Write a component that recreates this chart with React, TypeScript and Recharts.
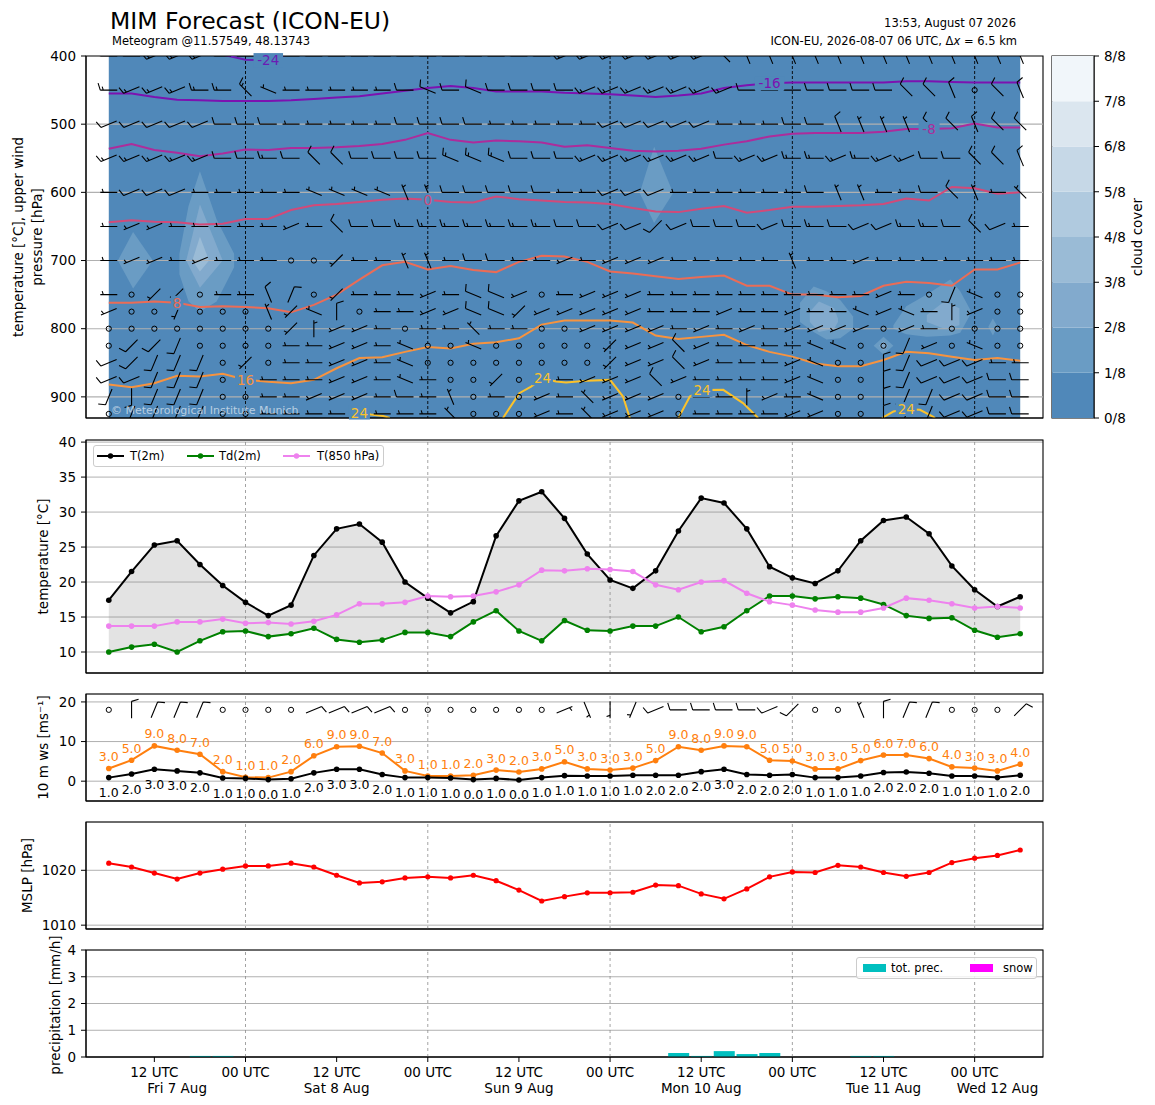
import React from 'react';
import {
  ComposedChart, Line, Area, Bar, Scatter, XAxis, YAxis, CartesianGrid,
  ReferenceLine, ReferenceArea, LabelList, Legend,
} from 'recharts';

// ---------------- data ----------------
const HOURS = [6, 9, 12, 15, 18, 21, 24, 27, 30, 33, 36, 39, 42, 45, 48, 51, 54, 57, 60, 63, 66, 69, 72, 75, 78, 81, 84, 87, 90, 93, 96, 99, 102, 105, 108, 111, 114, 117, 120, 123, 126];
const TICK_HOURS = [12, 24, 36, 48, 60, 72, 84, 96, 108, 120];
const TICK_LABELS = ['12 UTC', '00 UTC', '12 UTC', '00 UTC', '12 UTC', '00 UTC', '12 UTC', '00 UTC', '12 UTC', '00 UTC'];
const MIDNIGHTS = [24, 48, 72, 96, 120];
const DATE_HOURS = [15, 36, 60, 84, 108, 123];
const DATE_LABELS = ['Fri 7 Aug', 'Sat 8 Aug', 'Sun 9 Aug', 'Mon 10 Aug', 'Tue 11 Aug', 'Wed 12 Aug'];

const T2M = [17.4, 21.5, 25.3, 25.9, 22.5, 19.5, 17.1, 15.2, 16.7, 23.8, 27.6, 28.3, 25.7, 20.0, 17.7, 15.6, 17.2, 26.6, 31.6, 32.9, 29.1, 24.0, 20.3, 19.1, 21.6, 27.3, 32.0, 31.3, 27.6, 22.2, 20.6, 19.8, 21.6, 25.9, 28.8, 29.3, 26.9, 22.3, 18.9, 16.5, 17.9];
const TD2M = [10.0, 10.7, 11.1, 10.0, 11.6, 12.9, 13.0, 12.2, 12.6, 13.4, 11.8, 11.4, 11.7, 12.8, 12.8, 12.2, 14.3, 15.9, 13.0, 11.6, 14.5, 13.1, 13.0, 13.7, 13.7, 15.0, 12.9, 13.6, 15.9, 18.0, 18.0, 17.6, 17.9, 17.7, 16.8, 15.2, 14.8, 14.9, 13.1, 12.1, 12.6];
const T850 = [13.7, 13.7, 13.7, 14.3, 14.3, 14.7, 14.1, 14.2, 14.0, 14.4, 15.3, 16.9, 16.9, 17.1, 18.0, 17.9, 18.0, 18.6, 19.6, 21.7, 21.6, 21.9, 21.8, 21.5, 19.6, 18.9, 20.0, 20.2, 18.4, 17.2, 16.7, 16.0, 15.7, 15.7, 16.3, 17.7, 17.4, 16.9, 16.3, 16.5, 16.3];

const WS10 = [0.9, 1.8, 3.0, 2.6, 2.1, 0.8, 0.7, 0.4, 0.6, 2.1, 3.0, 3.0, 1.7, 0.9, 0.9, 0.8, 0.4, 0.7, 0.3, 0.9, 1.4, 1.3, 1.3, 1.5, 1.5, 1.5, 2.4, 3.0, 1.7, 1.5, 1.7, 0.9, 0.9, 1.3, 2.2, 2.3, 2.0, 1.3, 1.3, 0.9, 1.5];
const WS10_LABEL = [1, 2, 3, 3, 2, 1, 1, 0, 1, 2, 3, 3, 2, 1, 1, 1, 0, 1, 0, 1, 1, 1, 1, 1, 2, 2, 2, 3, 2, 2, 2, 1, 1, 1, 2, 2, 2, 1, 1, 1, 2];
const GUST = [3.2, 5.3, 8.9, 7.8, 6.8, 2.4, 1.0, 0.9, 2.4, 6.4, 8.7, 8.8, 7.1, 2.6, 1.3, 1.3, 1.5, 2.8, 2.3, 3.1, 4.9, 3.1, 2.8, 3.3, 5.2, 8.7, 7.8, 8.9, 8.7, 5.3, 5.1, 3.1, 3.1, 5.2, 6.6, 6.6, 5.7, 3.6, 3.3, 2.6, 4.3];
const GUST_LABEL = [3, 5, 9, 8, 7, 2, 1, 1, 2, 6, 9, 9, 7, 3, 1, 1, 2, 3, 2, 3, 5, 3, 3, 3, 5, 9, 8, 9, 9, 5, 5, 3, 3, 5, 6, 7, 6, 4, 3, 3, 4];

const MSLP = [1021.3, 1020.6, 1019.5, 1018.4, 1019.5, 1020.2, 1020.8, 1020.8, 1021.3, 1020.6, 1019.1, 1017.7, 1017.9, 1018.6, 1018.8, 1018.6, 1019.1, 1018.1, 1016.4, 1014.4, 1015.2, 1015.9, 1015.9, 1016.0, 1017.3, 1017.2, 1015.7, 1014.8, 1016.6, 1018.8, 1019.7, 1019.6, 1020.9, 1020.6, 1019.6, 1018.9, 1019.6, 1021.4, 1022.2, 1022.7, 1023.7];

const PREC_TOT = [0, 0, 0, 0, 0.04, 0.04, 0, 0, 0, 0, 0, 0, 0, 0, 0, 0, 0, 0, 0, 0, 0, 0, 0, 0, 0, 0.15, 0.04, 0.22, 0.11, 0.15, 0, 0, 0, 0.04, 0.04, 0, 0, 0, 0, 0, 0];
const PREC_SNOW = [0, 0, 0, 0, 0, 0, 0, 0, 0, 0, 0, 0, 0, 0, 0, 0, 0, 0, 0, 0, 0, 0, 0, 0, 0, 0, 0, 0, 0, 0, 0, 0, 0, 0, 0, 0, 0, 0, 0, 0, 0];

// isotherms: pressure [hPa] of each temperature contour at each time step
const ISO_M24_T = [18, 21, 24, 27, 30];
const ISO_M24_P = [396, 398, 405.5, 406, 396];
const ISO_M16 = [455, 455, 460, 464, 465, 466, 466, 466, 465, 463, 461, 459, 455, 451, 447, 444, 447, 452, 452, 452, 454, 455, 456, 458, 460, 458, 455, 447, 443, 440, 439, 439, 439, 439, 439, 437, 437, 438, 439, 439, 439];
const ISO_M8 = [536, 529, 538, 542, 547, 543, 537, 538, 535, 535, 534, 532, 529, 523, 513, 523, 527, 524, 525, 527, 533, 531, 535, 539, 540, 539, 536, 530, 525, 518, 514, 513, 513, 513, 511, 507, 507, 506, 499, 505, 505];
const ISO_0 = [644, 641, 643, 644, 647, 646, 639, 639, 626, 619, 617, 614, 611, 609, 611, 614, 615, 606, 610, 612, 614, 615, 617, 623, 628, 629, 624, 620, 630, 626, 621, 621, 620, 619, 617, 609, 612, 592, 594, 602, 600];
const ISO_P8 = [762, 762, 760, 762, 768, 767, 768, 770, 776, 765, 750, 728, 707, 702, 713, 708, 714, 717, 702, 693, 694, 702, 716, 719, 723, 727, 724, 722, 737, 737, 750, 750, 754, 752, 737, 731, 733, 737, 713, 713, 703];
const ISO_P16 = [882, 886, 880, 869, 870, 866, 875, 878, 880, 875, 858, 843, 842, 834, 827, 829, 822, 820, 814, 794, 788, 788, 788, 791, 810, 815, 812, 809, 824, 834, 841, 851, 855, 855, 846, 834, 836, 841, 846, 843, 847];
const ISO_P24_A = { t: [38, 39, 40.5, 42.1, 43], p: [931, 923, 926, 928, 931], labelIdx: 1 };
const ISO_P24_B = { t: [57.9, 60.05, 61.6, 63.1, 64.9, 66.2, 68.9, 72.0, 73.7, 74.6], p: [931, 894.6, 884.9, 872.6, 877.6, 879, 876.5, 875.1, 899.5, 931], labelIdx: 3 };
const ISO_P24_C = { t: [81.0, 82.5, 84.1, 86.9, 89.5, 91.3, 91.5], p: [931, 899.5, 890, 889.7, 909.2, 928.8, 931], labelIdx: 2 };
const ISO_P24_D = { t: [107.8, 109.3, 111.0, 112.8, 114.5, 114.8], p: [931, 921.5, 918, 918.9, 928.8, 931], labelIdx: 2 };

// cloud cover patches (levels in eighths), outline per time: top / bottom pressure
const CLOUD_A = { level: 1, t: [7.2, 9.2, 11.8], top: [700, 658, 700], bottom: [700, 741, 700] };
const CLOUD_B1 = { level: 1, t: [15.3, 16.5, 18.0, 20.2, 22.5], top: [690, 620, 569, 640, 690], bottom: [720, 760, 775, 760, 710] };
const CLOUD_B2 = { level: 2, t: [16.2, 18.0, 21.0], top: [700, 618, 700], bottom: [700, 740, 700] };
const CLOUD_B3 = { level: 3, t: [17.0, 18.0, 19.2], top: [700, 665, 700], bottom: [700, 716, 700] };
const CLOUD_C = { level: 1, t: [75.9, 77.8, 80.3], top: [601, 533, 601], bottom: [601, 645, 601] };
const CLOUD_D1 = { level: 1, t: [97.0, 98.8, 100.5, 102.3, 104.0], top: [762, 738, 745, 758, 782], bottom: [790, 805, 816, 814, 800] };
const CLOUD_D2 = { level: 2, t: [98.3, 99.5, 101.5, 102.0], top: [775, 760, 770, 785], bottom: [790, 805, 800, 790] };
const CLOUD_E1 = { level: 1, t: [109.3, 111.0, 113.7, 116.8, 118.1, 119.4], top: [795, 767, 750, 728, 745, 772], bottom: [800, 808, 812, 810, 806, 780] };
const CLOUD_E2 = { level: 2, t: [113.7, 116.0, 118.0], top: [780, 760, 770], bottom: [790, 800, 795] };
const CLOUD_F1 = { level: 1, t: [106.7, 108.0, 109.3], top: [825, 812, 825], bottom: [825, 838, 825] };
const CLOUD_F2 = { level: 2, t: [107.4, 108.0, 108.6], top: [825, 818, 825], bottom: [825, 832, 825] };
const CLOUD_G = { level: 1, t: [121.8, 122.4, 123.0], top: [797, 785, 797], bottom: [797, 810, 797] };
const CLOUD_PATCHES = [CLOUD_A, CLOUD_B1, CLOUD_B2, CLOUD_B3, CLOUD_C, CLOUD_D1, CLOUD_D2, CLOUD_E1, CLOUD_E2, CLOUD_F1, CLOUD_F2, CLOUD_G];

// upper-air wind barbs: one string per level, one char per time step
// o = calm, a..q (no o) = direction the wind comes from in 22.5 deg steps (a = N, e = E, i = S, m = W)
const BARB_LEVELS = [400, 450, 500, 550, 600, 650, 700, 750, 775, 800, 825, 850, 875, 900, 925];
const BARB_DIRS = [
  'mmlllmmmmm' + 'mmmmmmmmmm' + 'lllllllpqq' + 'qqqqqqqqqq' + 'q',
  'mlllmmpnmm' + 'mmmmnmnmmm' + 'mlllllllmm' + 'mmmmmppqop' + 'q',
  'lllllmmmmm' + 'mmmmmmmmmm' + 'mmlllllmmm' + 'mmqqqqppqp' + 'p',
  'lllllmmmmp' + 'pmmmmnnnmm' + 'mllllllmll' + 'mmlmllmmpp' + 'q',
  'mlllmmmmmn' + 'nnnqqmmmmm' + 'mmlllmmmmm' + 'mmqqmmmpqm' + 'p',
  'mllmmmmmlm' + 'pmmmmmmmmm' + 'mmllklmmml' + 'mmmllmmmpl' + 'm',
  'mllmlmmmoo' + 'kmmqqmmmmm' + 'lmlllmmmmm' + 'qmmlmmmmmm' + 'm',
  'mokkommqbo' + 'kmmmlmnnlo' + 'mlllmmmmmm' + 'mmmmlmojno' + 'o',
  'loojoooqkn' + 'aommllnnkl' + 'llllmmmlmm' + 'lmmnlnmalo' + 'o',
  'ooooooooka' + 'llmommpmmo' + 'ollllmlmlm' + 'llllolmooo' + 'o',
  'okkjoooomm' + 'llmnoonooo' + 'ookllplmmm' + 'mnnoojlono' + 'o',
  'lkjjjokomm' + 'llmnoooooo' + 'ookllplmmm' + 'lnooajlllm' + 'm',
  'lljjjommmm' + 'llmnmookoo' + 'mlllplmmmm' + 'lnooajlllm' + 'm',
  'jijjjoomml' + 'llmmmqomol' + 'mplllommal' + 'mnooajjllm' + 'm',
  'ojjjjoommm' + 'mmmmmpoool' + 'mplllommmm' + 'llooajjllm' + 'm',
];
// speed in half-barbs (1 = 5 kt, 2 = 10 kt, 3 = 15 kt)
const BARB_SPD = [
  '3333333333' + '3333333333' + '3333333333' + '3333333333' + '3',
  '3333333111' + '1112222222' + '2333333322' + '2222222202' + '2',
  '2222222211' + '1112222111' + '1122222111' + '2221112222' + '2',
  '3333322322' + '2222233322' + '2333333233' + '3333332222' + '2',
  '1222111111' + '1111122222' + '1122211111' + '1211112211' + '1',
  '1111111111' + '2223333333' + '2222222222' + '2322233222' + '1',
  '1111111100' + '1111112211' + '1111111111' + '1111111111' + '1',
  '1011011220' + '1111112210' + '1111111111' + '1111110210' + '0',
  '1001000111' + '2011112211' + '1111111111' + '1111111110' + '0',
  '0000000011' + '1110111110' + '0111111111' + '1111011000' + '0',
  '0222000011' + '1111001000' + '0011121111' + '1110021010' + '0',
  '2222201011' + '1111000000' + '0011121111' + '1100222221' + '1',
  '2222201111' + '1111100100' + '1111211111' + '1100222222' + '2',
  '2222200111' + '1112110101' + '1111101111' + '1100222222' + '2',
  '0222200111' + '1111110001' + '1111101111' + '1100222222' + '2',
];
const SFC_BARB_ROW = 18;
const SFC_DIR = 'oabbbooood' + 'dddooooooo' + 'dhijlmmmml' + 'kooqabbooo' + 'c';
const SFC_SPD = '0222200002' + '2220000000' + '1111222222' + '2001222000' + '2';

const CB_TICKS = [0, 1, 2, 3, 4, 5, 6, 7, 8];
const CB_COLORS = ['#5088b9', '#6a9cc4', '#82aacd', '#9abbd6', '#b0cadf', '#c6d8e7', '#dbe6ef', '#f1f6fa'];

// ---------------- derived tables ----------------
const rows = HOURS.map((t, i) => ({
  t, t2: T2M[i], td: TD2M[i], t850: T850[i],
  ws: WS10[i], wsLbl: WS10_LABEL[i], gust: GUST[i], gustLbl: GUST_LABEL[i],
  mslp: MSLP[i], prec: PREC_TOT[i], snow: PREC_SNOW[i],
}));

const DIR_CODES = 'abcdefghijklmnpq';
const topBarbs = BARB_LEVELS.flatMap((p, li) => HOURS.map((t, i) => ({
  t, p, code: BARB_DIRS[li][i], spd: Number(BARB_SPD[li][i]),
})));
const sfcBarbs = HOURS.map((t, i) => ({ t, y: SFC_BARB_ROW, code: SFC_DIR[i], spd: Number(SFC_SPD[i]) }));

const P_MIN = 400;
const P_MAX = 931;
const P_TICKS = [400, 500, 600, 700, 800, 900];
const P_GRID = [500, 600, 700, 800, 900];
const X_DOMAIN: [number, number] = [3, 129];

const bgData = [
  { t: HOURS[0], r: [P_MIN, P_MAX] },
  { t: HOURS[HOURS.length - 1], r: [P_MIN, P_MAX] },
];

const isoMain = [
  { key: 'm16', label: '-16', color: '#7c12b0', values: ISO_M16, labelIdx: 29 },
  { key: 'm8', label: '-8', color: '#ad2c9b', values: ISO_M8, labelIdx: 36 },
  { key: 'z0', label: '0', color: '#d24a79', values: ISO_0, labelIdx: 14 },
  { key: 'p8', label: '8', color: '#eb6c56', values: ISO_P8, labelIdx: 3 },
  { key: 'p16', label: '16', color: '#f7933f', values: ISO_P16, labelIdx: 6 },
].map((s) => ({
  ...s,
  data: s.values.map((p, i) => ({ t: HOURS[i], p, lbl: i === s.labelIdx ? s.label : null })),
}));
const isoM24 = ISO_M24_T.map((t, i) => ({ t, p: ISO_M24_P[i], lbl: i === 3 ? '-24' : null }));
const iso24Pieces = [ISO_P24_A, ISO_P24_B, ISO_P24_C, ISO_P24_D].map((piece) =>
  piece.t.map((t, i) => ({ t, p: piece.p[i], lbl: i === piece.labelIdx ? '24' : null })));
const COLOR_M24 = '#6a1cb4';
const COLOR_P24 = '#fbc22b';

// ---------------- helpers ----------------
const FONT = "'DejaVu Sans', Verdana, sans-serif";
const TICK_FONT = 13.5;
const fmtTick = (v: number) => TICK_LABELS[TICK_HOURS.indexOf(v)] ?? '';
const fmtDate = (v: number) => DATE_LABELS[DATE_HOURS.indexOf(v)] ?? '';

function AxisTitle(props: any) {
  const { posX, posY, lines, size = TICK_FONT, gap = 19 } = props;
  return (
    <g>
      {lines.map((ln: any, i: number) => {
        const xx = posX + i * gap;
        return (
          <text key={i} x={xx} y={posY} transform={`rotate(-90 ${xx} ${posY})`} textAnchor="middle"
            dominantBaseline="central" fontSize={size} fill="#000">{ln}</text>
        );
      })}
    </g>
  );
}

function BarbShape(props: any) {
  const { cx, cy, payload } = props;
  if (cx == null || cy == null || !payload) return <g />;
  const code = payload.code;
  if (code === 'o') return <circle cx={cx} cy={cy} r={2.6} fill="none" stroke="#000" strokeWidth={1} />;
  const deg = DIR_CODES.indexOf(code) * 22.5;
  const a = (deg * Math.PI) / 180;
  const sx = Math.sin(a);
  const sy = -Math.cos(a);
  const L = 17;
  const H = 7;
  const SP = 3;
  const tx = cx - (sx * L) / 2;
  const ty = cy - (sy * L) / 2;
  const ex = cx + (sx * L) / 2;
  const ey = cy + (sy * L) / 2;
  const bx = -sy * H + sx * 2.2;
  const by = sx * H + sy * 2.2;
  let d = `M${tx},${ty}L${ex},${ey}`;
  const full = Math.floor(payload.spd / 2);
  const half = payload.spd % 2;
  let pos = 0;
  for (let k = 0; k < full; k++) {
    d += `M${ex - sx * pos},${ey - sy * pos}l${bx},${by}`;
    pos += SP;
  }
  if (half) {
    if (full === 0) pos = SP;
    d += `M${ex - sx * pos},${ey - sy * pos}l${bx / 2},${by / 2}`;
  }
  return <path d={d} fill="none" stroke="#000" strokeWidth={1.1} />;
}

const makeIsoLabel = (color: string) => (props: any) => {
  const x = props.x ?? props.viewBox?.x;
  const y = props.y ?? props.viewBox?.y;
  const value = props.value;
  if (value === null || value === undefined || value === '' || x == null || y == null) return null;
  const s = String(value);
  const w = s.length * 8.5 + 4;
  return (
    <g>
      <rect x={x - w / 2} y={y - 7} width={w} height={14} fill={CB_COLORS[0]} />
      <text x={x} y={y + 5} textAnchor="middle" fontSize={TICK_FONT} fill={color}>{s}</text>
    </g>
  );
};

const makeWindLabel = (color: string, dy: number) => (props: any) => {
  const x = props.x ?? props.viewBox?.x;
  const y = props.y ?? props.viewBox?.y;
  if (props.value == null || x == null || y == null) return null;
  return (
    <text x={x} y={y + dy} textAnchor="middle" fontSize={12.5} fill={color}>{Number(props.value).toFixed(1)}</text>
  );
};

const commonX = {
  dataKey: 't', type: 'number' as const, domain: X_DOMAIN, allowDataOverflow: true,
  ticks: TICK_HOURS, interval: 0 as const, tickSize: 5, stroke: '#000',
};
const commonY = {
  type: 'number' as const, allowDataOverflow: true, interval: 0 as const, width: 60, tickSize: 5, tickMargin: 5,
  stroke: '#000', tick: { fill: '#000', fontSize: TICK_FONT },
};
const MARGIN = { top: 10, right: 112, bottom: 0, left: 26 };

// ---------------- panels ----------------
function TopPanel() {
  return (
    <div style={{ position: 'absolute', left: 0, top: 46 }}>
      <ComposedChart width={1155} height={384} data={rows} margin={MARGIN}>
        <XAxis {...commonX} tick={false} height={12} />
        <YAxis {...commonY} domain={[P_MIN, P_MAX]} reversed ticks={P_TICKS}
          label={<AxisTitle posX={18} posY={191} lines={['temperature [°C], upper wind', 'pressure [hPa]']} />} />
        <Area data={bgData} dataKey="r" type="linear" fill={CB_COLORS[0]} fillOpacity={1} stroke="none" isAnimationActive={false} />
        {CLOUD_PATCHES.map((c, k) => (
          <Area key={`cl${k}`} data={c.t.map((t, i) => ({ t, r: [c.top[i], c.bottom[i]] }))} dataKey="r" type="linear"
            fill={CB_COLORS[c.level]} fillOpacity={1} stroke="none" isAnimationActive={false} />
        ))}
        {P_GRID.map((p) => (
          <Line key={`g${p}`} data={[{ t: X_DOMAIN[0], p }, { t: X_DOMAIN[1], p }]} dataKey="p" stroke="#b0b0b0"
            strokeWidth={1.1} dot={false} isAnimationActive={false} />
        ))}
        {MIDNIGHTS.map((h) => (
          <Line key={`d${h}`} data={[{ t: h, p: P_MIN }, { t: h, p: P_MAX }]} dataKey="p" stroke="#000"
            strokeWidth={0.9} strokeDasharray="3 2" dot={false} isAnimationActive={false} />
        ))}
        <Line data={isoM24} dataKey="p" stroke={COLOR_M24} strokeWidth={2} dot={false} isAnimationActive={false}>
          <LabelList dataKey="lbl" content={makeIsoLabel(COLOR_M24)} />
        </Line>
        {isoMain.map((s) => (
          <Line key={s.key} data={s.data} dataKey="p" stroke={s.color} strokeWidth={2} dot={false} isAnimationActive={false}>
            <LabelList dataKey="lbl" content={makeIsoLabel(s.color)} />
          </Line>
        ))}
        {iso24Pieces.map((d, k) => (
          <Line key={`p24${k}`} data={d} dataKey="p" stroke={COLOR_P24} strokeWidth={2} dot={false} isAnimationActive={false}>
            <LabelList dataKey="lbl" content={makeIsoLabel(COLOR_P24)} />
          </Line>
        ))}
        <Scatter data={topBarbs} dataKey="p" shape={BarbShape} isAnimationActive={false} />
        <ReferenceArea x1={X_DOMAIN[0]} x2={X_DOMAIN[1]} y1={P_MIN} y2={P_MAX} fill="none" stroke="#000" strokeWidth={1.1} ifOverflow="visible" />
      </ComposedChart>
    </div>
  );
}

function ColorBar() {
  const cbRow = [{ name: 'cc', b0: 1, b1: 1, b2: 1, b3: 1, b4: 1, b5: 1, b6: 1, b7: 1 }];
  return (
    <div style={{ position: 'absolute', left: 1040, top: 46 }}>
      <ComposedChart width={115} height={384} data={cbRow} margin={{ top: 10, right: 1, bottom: 12, left: 12 }} barCategoryGap={0}>
        <XAxis dataKey="name" type="category" hide />
        <YAxis {...commonY} orientation="right" domain={[0, 8]} ticks={CB_TICKS} tickFormatter={(v: number) => `${v}/8`}
          label={<AxisTitle posX={97} posY={191} lines={['cloud cover']} />} />
        {CB_COLORS.map((c, i) => (
          <Bar key={i} dataKey={`b${i}`} stackId="cb" fill={c} isAnimationActive={false} />
        ))}
        <ReferenceArea y1={0} y2={8} fill="none" stroke="#000" strokeWidth={1.1} ifOverflow="visible" />
      </ComposedChart>
    </div>
  );
}

const TEMP_LEGEND = [
  { label: 'T(2m)', color: '#000000', lineX: 3, textX: 36 },
  { label: 'Td(2m)', color: '#008000', lineX: 93, textX: 125 },
  { label: 'T(850 hPa)', color: '#ee82ee', lineX: 189, textX: 223 },
];
function TempLegendBox() {
  return (
    <div style={{ position: 'relative', width: 291, height: 22, boxSizing: 'border-box', border: '1px solid #cccccc', borderRadius: 3, background: 'rgba(255,255,255,0.8)', fontFamily: FONT, fontSize: 11.5, color: '#000' }}>
      {TEMP_LEGEND.map((it) => (
        <React.Fragment key={it.label}>
          <svg style={{ position: 'absolute', left: it.lineX, top: 5 }} width={27} height={10}>
            <line x1={0} y1={5} x2={27} y2={5} stroke={it.color} strokeWidth={2} />
            <circle cx={13.5} cy={5} r={2.7} fill={it.color} />
          </svg>
          <span style={{ position: 'absolute', left: it.textX, top: 3, lineHeight: '14px', whiteSpace: 'nowrap' }}>{it.label}</span>
        </React.Fragment>
      ))}
    </div>
  );
}

function TempPanel() {
  return (
    <div style={{ position: 'absolute', left: 0, top: 430 }}>
      <ComposedChart width={1155} height={255} data={rows} margin={MARGIN}>
        <CartesianGrid vertical={false} stroke="#b0b0b0" strokeWidth={1} />
        <XAxis {...commonX} tick={false} height={12} />
        <YAxis {...commonY} domain={[7, 40.3]} ticks={[10, 15, 20, 25, 30, 35, 40]}
          label={<AxisTitle posX={43} posY={126.5} lines={['temperature [°C]']} />} />
        {MIDNIGHTS.map((h) => (
          <ReferenceLine key={h} x={h} stroke="#8c8c8c" strokeDasharray="3 3" strokeWidth={0.8} />
        ))}
        <Area dataKey={(d: any) => [d.td, d.t2]} type="linear" fill="#808080" fillOpacity={0.22} stroke="none" isAnimationActive={false} />
        <Line dataKey="t2" stroke="#000" strokeWidth={2} dot={{ r: 2.8, fill: '#000', stroke: '#000', strokeWidth: 0 }} isAnimationActive={false} />
        <Line dataKey="td" stroke="#008000" strokeWidth={2} dot={{ r: 2.8, fill: '#008000', stroke: '#008000', strokeWidth: 0 }} isAnimationActive={false} />
        <Line dataKey="t850" stroke="#ee82ee" strokeWidth={2} dot={{ r: 2.8, fill: '#ee82ee', stroke: '#ee82ee', strokeWidth: 0 }} isAnimationActive={false} />
        <Legend layout="horizontal" verticalAlign="middle" align="center" width={291} height={22}
          wrapperStyle={{ left: 93, top: 15, width: 291, height: 22 }} content={() => <TempLegendBox />} />
        <ReferenceArea x1={X_DOMAIN[0]} x2={X_DOMAIN[1]} y1={7} y2={40.3} fill="none" stroke="#000" strokeWidth={1.1} ifOverflow="visible" />
      </ComposedChart>
    </div>
  );
}

function WindPanel() {
  return (
    <div style={{ position: 'absolute', left: 0, top: 684 }}>
      <ComposedChart width={1155} height={129} data={rows} margin={MARGIN}>
        <CartesianGrid vertical={false} stroke="#b0b0b0" strokeWidth={1} />
        <XAxis {...commonX} tick={false} height={12} />
        <YAxis {...commonY} domain={[-5, 22]} ticks={[0, 10, 20]}
          label={<AxisTitle posX={43} posY={63.5} lines={['10 m ws [ms⁻¹]']} />} />
        {MIDNIGHTS.map((h) => (
          <ReferenceLine key={h} x={h} stroke="#8c8c8c" strokeDasharray="3 3" strokeWidth={0.8} />
        ))}
        <Line dataKey="gust" stroke="#ff7f0e" strokeWidth={2} dot={{ r: 2.8, fill: '#ff7f0e', stroke: '#ff7f0e', strokeWidth: 0 }} isAnimationActive={false}>
          <LabelList dataKey="gustLbl" content={makeWindLabel('#ff7f0e', -7.5)} />
        </Line>
        <Line dataKey="ws" stroke="#000" strokeWidth={2} dot={{ r: 2.8, fill: '#000', stroke: '#000', strokeWidth: 0 }} isAnimationActive={false}>
          <LabelList dataKey="wsLbl" content={makeWindLabel('#000', 19.5)} />
        </Line>
        <Scatter data={sfcBarbs} dataKey="y" shape={BarbShape} isAnimationActive={false} />
        <ReferenceArea x1={X_DOMAIN[0]} x2={X_DOMAIN[1]} y1={-5} y2={22} fill="none" stroke="#000" strokeWidth={1.1} ifOverflow="visible" />
      </ComposedChart>
    </div>
  );
}

function MslpPanel() {
  return (
    <div style={{ position: 'absolute', left: 0, top: 812 }}>
      <ComposedChart width={1155} height={129} data={rows} margin={MARGIN}>
        <CartesianGrid vertical={false} stroke="#b0b0b0" strokeWidth={1} />
        <XAxis {...commonX} tick={false} height={12} />
        <YAxis {...commonY} domain={[1009.3, 1028.8]} ticks={[1010, 1020]}
          label={<AxisTitle posX={27} posY={63.5} lines={['MSLP [hPa]']} />} />
        {MIDNIGHTS.map((h) => (
          <ReferenceLine key={h} x={h} stroke="#8c8c8c" strokeDasharray="3 3" strokeWidth={0.8} />
        ))}
        <Line dataKey="mslp" stroke="#ff0000" strokeWidth={2} dot={{ r: 2.6, fill: '#ff0000', stroke: '#ff0000', strokeWidth: 0 }} isAnimationActive={false} />
        <ReferenceArea x1={X_DOMAIN[0]} x2={X_DOMAIN[1]} y1={1009.3} y2={1028.8} fill="none" stroke="#000" strokeWidth={1.1} ifOverflow="visible" />
      </ComposedChart>
    </div>
  );
}

const PREC_LEGEND = [
  { label: 'tot. prec.', color: '#00bfbf', patchX: 6, textX: 34 },
  { label: 'snow', color: '#ff00ff', patchX: 113, textX: 146 },
];
function PrecLegendBox() {
  return (
    <div style={{ position: 'relative', width: 181, height: 22, boxSizing: 'border-box', border: '1px solid #cccccc', borderRadius: 3, background: 'rgba(255,255,255,0.8)', fontFamily: FONT, fontSize: 11.5, color: '#000' }}>
      {PREC_LEGEND.map((it) => (
        <React.Fragment key={it.label}>
          <div style={{ position: 'absolute', left: it.patchX, top: 6, width: 23, height: 8, background: it.color }} />
          <span style={{ position: 'absolute', left: it.textX, top: 3, lineHeight: '14px', whiteSpace: 'nowrap' }}>{it.label}</span>
        </React.Fragment>
      ))}
    </div>
  );
}

function PrecipPanel() {
  return (
    <div style={{ position: 'absolute', left: 0, top: 920 }}>
      <ComposedChart width={1155} height={185} data={rows} margin={{ ...MARGIN, top: 30 }} barCategoryGap="5%">
        <CartesianGrid vertical={false} stroke="#b0b0b0" strokeWidth={1} />
        <XAxis {...commonX} height={22} tickMargin={5} tickFormatter={fmtTick} tick={{ fill: '#000', fontSize: TICK_FONT }} />
        <XAxis xAxisId="date" dataKey="t" type="number" domain={X_DOMAIN} allowDataOverflow ticks={DATE_HOURS} interval={0}
          tickFormatter={fmtDate} height={26} axisLine={false} tickLine={false} tickSize={0} tickMargin={4}
          tick={{ fill: '#000', fontSize: TICK_FONT }} />
        <YAxis {...commonY} domain={[0, 4]} ticks={[0, 1, 2, 3, 4]}
          label={<AxisTitle posX={55} posY={85} lines={['precipitation [mm/h]']} />} />
        {MIDNIGHTS.map((h) => (
          <ReferenceLine key={h} x={h} stroke="#8c8c8c" strokeDasharray="3 3" strokeWidth={0.8} />
        ))}
        <Bar dataKey="prec" stackId="pr" fill="#00bfbf" isAnimationActive={false} />
        <Bar dataKey="snow" stackId="pr" fill="#ff00ff" isAnimationActive={false} />
        <Legend layout="horizontal" verticalAlign="middle" align="center" width={181} height={22}
          wrapperStyle={{ left: 856, top: 37, width: 181, height: 22 }} content={() => <PrecLegendBox />} />
        <ReferenceArea x1={X_DOMAIN[0]} x2={X_DOMAIN[1]} y1={0} y2={4} fill="none" stroke="#000" strokeWidth={1.1} ifOverflow="visible" />
      </ComposedChart>
    </div>
  );
}

function Overlay() {
  return (
    <svg width={1155} height={1105} style={{ position: 'absolute', left: 0, top: 0, pointerEvents: 'none' }}>
      <text x={110} y={29} fontSize={23.5} fill="#000">MIM Forecast (ICON-EU)</text>
      <text x={112} y={45} fontSize={11.5} fill="#000">Meteogram @11.57549, 48.13743</text>
      <text x={1016} y={27} fontSize={11.5} fill="#000" textAnchor="end">13:53, August 07 2026</text>
      <text x={1017} y={45} fontSize={11.5} fill="#000" textAnchor="end">
        ICON-EU, 2026-08-07 06 UTC, Δ<tspan fontStyle="italic">x</tspan> = 6.5 km
      </text>
      <text x={111} y={413.5} fontSize={11} fill="#ffffff" fillOpacity={0.6}>© Meteorological Institute Munich</text>
    </svg>
  );
}

export default function App() {
  return (
    <div style={{ position: 'absolute', left: 0, top: 0, width: 1155, height: 1105, overflow: 'hidden', background: '#fff', fontFamily: FONT }}>
      <TopPanel />
      <ColorBar />
      <TempPanel />
      <WindPanel />
      <MslpPanel />
      <PrecipPanel />
      <Overlay />
    </div>
  );
}
